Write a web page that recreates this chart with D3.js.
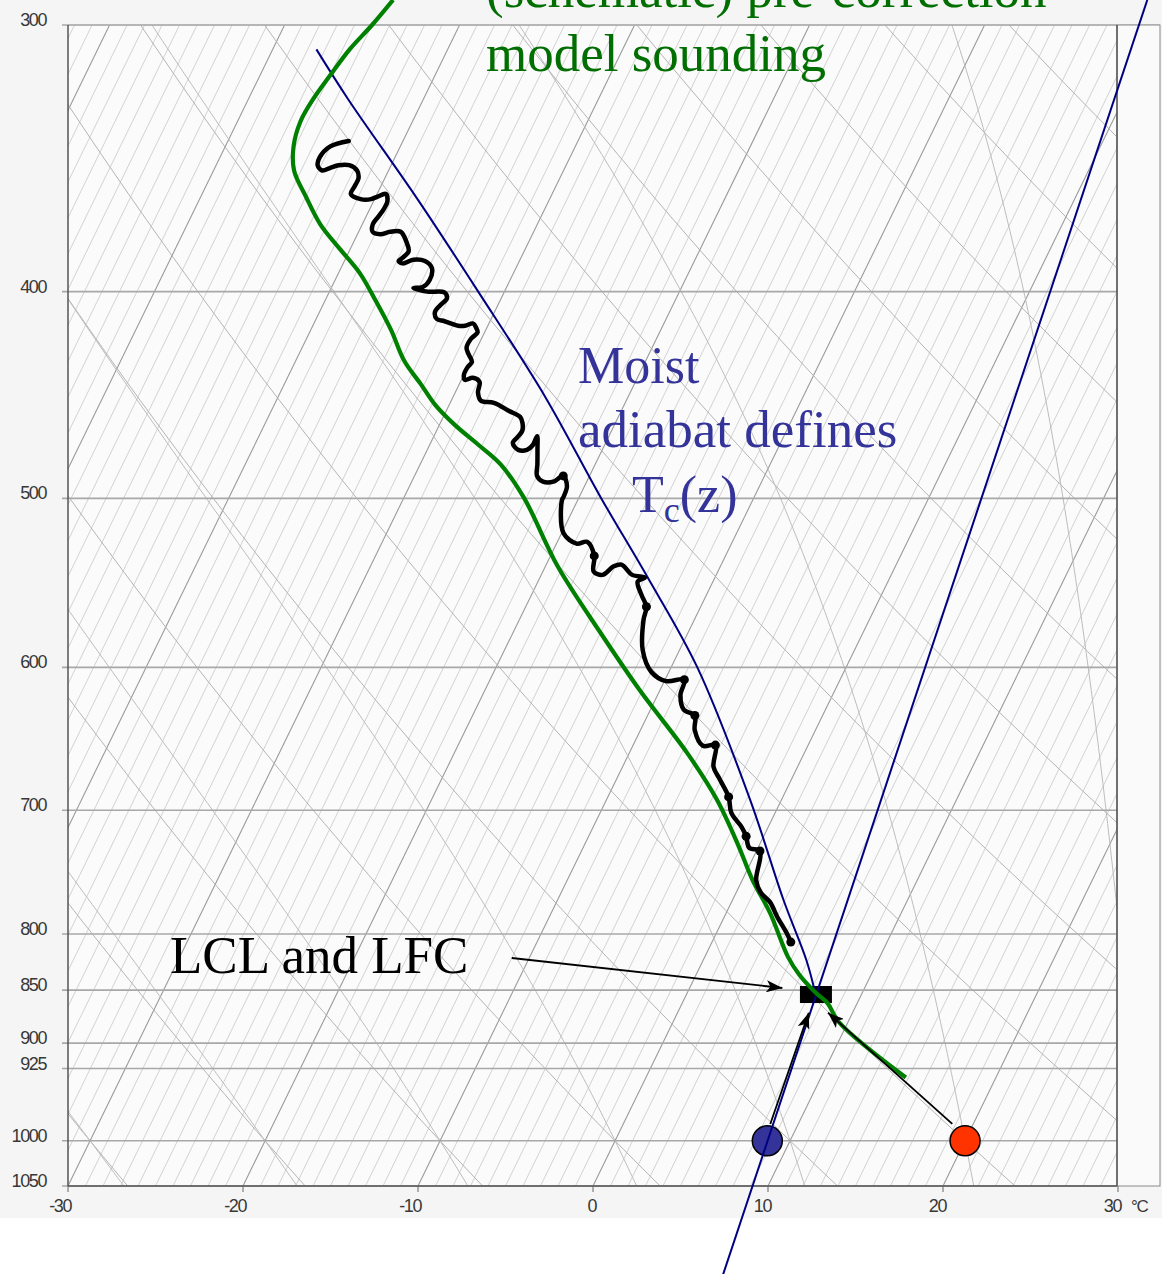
<!DOCTYPE html>
<html><head><meta charset="utf-8">
<script src="https://cdn.jsdelivr.net/npm/d3@7"></script>
<style>body{margin:0;background:#fff} svg{display:block}</style>
</head><body>
<svg id="c" width="1162" height="1274"></svg>
<script>
// ---------------- data ----------------
const pressureTicks = [300,400,500,600,700,800,850,900,925,1000,1050];
const tempTicks = [-30,-20,-10,0,10,20,30];
const dryAdiabatTheta = [-30,-20,-10,0,10,20,30,40,50,60,70,80,90,100,110,120];   // °C
const moistAdiabatThetaW = [-30,-20,-10,0,10,20,30];                              // °C
const surfaceP = 1000;
const surfaceT = 20.0;
const surfaceTd = 8.7;
const lcl = [7.4, 854];
// pre-correction model sounding [T °C, p hPa]
const modelSounding = [[-44.5,292],[-45.0,300],[-45.6,308],[-46.0,317],[-46.3,325],[-46.4,333],[-46.1,342],
 [-45.4,351],[-44.0,361],[-42.4,372],[-40.6,382],[-38.8,392],[-37.1,404],[-35.4,417],[-33.8,431],[-32.2,442],
 [-30.8,452],[-29.1,462],[-27.2,472],[-25.4,482],[-23.1,500],[-19.3,538],[-15.0,578],[-11.15,615],[-6.7,658],
 [-3.7,692],[-1.2,727],[0.6,755],[2.5,782],[4.75,820],[5.9,836],[7.3,852],[8.3,862],[9.5,880],[14.85,934]];
// observed sounding [T, p, blob]
const observedSounding = [[-43.1,340,0],[-44.0,342,0],[-44.3,346,0],[-44.2,349,0],[-43.8,351,0],[-43.4,350,0],
 [-43.0,349,0],[-42.4,349,0],[-41.8,351,0],[-41.5,354,0],[-41.5,357,0],[-41.5,360,0],[-40.8,362,0],[-40.2,362,0],
 [-39.9,361,0],[-39.5,360,0],[-39.2,363,0],[-39.2,366,0],[-39.3,369,0],[-39.4,372,0],[-39.2,375,0],[-38.7,376,0],
 [-38.2,375,0],[-37.6,375,0],[-37.0,379,0],[-36.6,383,0],[-36.8,386,0],[-36.9,387,0],[-36.6,388,0],[-36.1,386.5,0],
 [-35.4,387,0],[-34.8,390,0],[-34.6,395,0],[-34.8,398,0],[-35.3,398.5,0],[-34.4,400,0],[-33.4,400.4,0],[-33.1,403,0],
 [-33.3,406,0],[-33.4,409,0],[-33.1,412,0],[-32.6,413,0],[-31.7,415,0],[-31.3,415,0],[-30.9,414,0],[-30.6,416,0],
 [-30.4,418,0],[-30.6,421,0],[-30.6,425,0],[-30.3,428,0],[-29.9,431.5,0],[-30.0,434,0],[-30.0,437.5,0],[-29.8,440,0],
 [-29.4,439,0],[-28.9,441,0],[-28.7,446,0],[-28.3,450,0],[-27.5,451,0],[-26.4,455,0],[-25.6,458,0],[-25.3,461,0],
 [-25.1,465,0],[-25.2,468,0],[-25.3,471,0],[-24.8,474.5,0],[-24.3,474.5,0],[-24.1,472,0],[-24.1,467.6,0],[-23.7,474.5,0],
 [-23.3,482,0],[-23.0,488,0],[-22.5,491,0],[-21.9,491,0],[-21.5,488,1],[-21.0,493.5,0],[-20.9,499.3,0],[-20.9,501,0],
 [-19.9,519,0],[-18.85,525,0],[-18.3,524,0],[-17.5,532,1],[-17.1,541,0],[-16.5,543,0],[-16.1,538,0],[-15.7,537,0],
 [-14.8,543,0],[-14.0,544.6,0],[-14.3,547,0],[-13.7,555,0],[-13.1,562,1],[-12.9,570,0],[-12.1,589,0],[-11.0,603,0],
 [-9.9,609,0],[-8.9,608,1],[-8.7,618,0],[-8.1,628,0],[-7.3,632,1],[-6.9,642,0],[-6.0,653,0],[-5.3,652.5,1],
 [-4.8,668,0],[-4.1,677,0],[-3.1,690,1],[-2.5,702,0],[-1.5,713,0],[-1.0,720,1],[-0.5,729,0],[0.2,731.5,1],
 [0.8,755,0],[1.4,765,0],[2.2,773,0],[3.0,785,0],[4.0,799,0],[4.5,807,1]];
// moist adiabat through the LCL that defines Tc(z)
const moistAdiabatTc = [[-47.5,308],[-44.3,325],[-37.55,362],[-31.5,400],[-24.75,448],[-18.7,500],[-13.9,544],
 [-8.5,600],[-1.8,692],[2.9,771],[5.9,823],[7.2,850]];
// saturation mixing-ratio line through surface dewpoint
const mixingRatioLine = [[9.9,1155],[-1.4,292]];
const arrows = [
  {from:[-11.0,821], to:[5.3,848]},
  {from:[18.8,982],  to:[8.6,871]},
  {from:[8.4,982],   to:[7.5,871]}
];

// ---------------- scales ----------------
const x0 = 68, x1 = 1118, xR = 1117, yTop = 25, yBot = 1186;
const y  = d3.scaleLog().domain([300,1050]).range([yTop,yBot]);
const xT = d3.scaleLinear().domain([-30,30]).range([x0,x1]);
const skew = 0.488;
const X = (T,p) => xT(T) + skew*(yBot - y(p));
const line = d3.line().x(d=>X(d[0],d[1])).y(d=>y(d[1]));

const svg = d3.select('#c');
svg.append('rect').attr('width',1162).attr('height',1218).attr('fill','#f5f5f5');
svg.append('rect').attr('x',x0).attr('y',yTop).attr('width',xR-x0).attr('height',yBot-yTop).attr('fill','#fbfbfb');

const defs = svg.append('defs');
defs.append('clipPath').attr('id','clip').append('rect')
  .attr('x',x0).attr('y',yTop).attr('width',xR-x0).attr('height',yBot-yTop);
defs.append('marker').attr('id','ah').attr('viewBox','0 0 16 12').attr('refX',16).attr('refY',6)
  .attr('markerWidth',16).attr('markerHeight',12).attr('markerUnits','userSpaceOnUse').attr('orient','auto')
  .append('path').attr('d','M0,0 L16,6 L0,12 L4,6 Z').attr('fill','#000');

const grid = svg.append('g').attr('clip-path','url(#clip)');
const pSamples = d3.range(1100, 279, -10);

// isotherms
d3.range(-110, 31, 1).forEach(T=>{
  const major = T % 10 === 0;
  grid.append('path').attr('d', line([[T,1100],[T,280]]))
    .attr('stroke', major ? '#9a9a9a' : '#cdcdcd').attr('stroke-width', major?1.1:0.9).attr('fill','none');
});
// dry adiabats
dryAdiabatTheta.forEach(th=>{
  const pts = pSamples.map(p=>[(th+273.15)*Math.pow(p/1000,0.2857)-273.15, p]);
  grid.append('path').attr('d', d3.line().curve(d3.curveBasis).x(d=>X(d[0],d[1])).y(d=>y(d[1]))(pts))
    .attr('stroke','#b4b4b4').attr('stroke-width',1).attr('fill','none');
});
// moist adiabats
function dTdp(T,p){
  const Rd=287.04, Cp=1005.7, L=2.501e6, eps=0.622;
  const Tc=T-273.15;
  const es=6.112*Math.exp(17.67*Tc/(Tc+243.5));
  const rs=eps*es/(p-es);
  return (Rd*T + L*rs)/((Cp + L*L*rs*eps/(Rd*T*T))*p);
}
function moist(thw){
  const up=[], dn=[];
  let T=thw+273.15, p=1000;
  up.push([T-273.15,p]);
  while(p>280){ const h=-5;
    const k1=dTdp(T,p), k2=dTdp(T+h*k1/2,p+h/2), k3=dTdp(T+h*k2/2,p+h/2), k4=dTdp(T+h*k3,p+h);
    T+=h*(k1+2*k2+2*k3+k4)/6; p+=h; up.push([T-273.15,p]); }
  T=thw+273.15; p=1000;
  while(p<1100){ const h=5;
    const k1=dTdp(T,p), k2=dTdp(T+h*k1/2,p+h/2), k3=dTdp(T+h*k2/2,p+h/2), k4=dTdp(T+h*k3,p+h);
    T+=h*(k1+2*k2+2*k3+k4)/6; p+=h; dn.push([T-273.15,p]); }
  return dn.reverse().concat(up);
}
moistAdiabatThetaW.forEach(tw=>{
  grid.append('path').attr('d', line(moist(tw)))
    .attr('stroke','#bdbdbd').attr('stroke-width',1).attr('fill','none');
});
// isobars
pressureTicks.forEach(p=>{
  svg.append('line').attr('x1',x0-6).attr('x2',xR).attr('y1',y(p)).attr('y2',y(p))
    .attr('stroke','#a8a8a8').attr('stroke-width',1.6);
});
// frame
svg.append('line').attr('x1',x0).attr('x2',1160).attr('y1',yTop).attr('y2',yTop).attr('stroke','#b0b0b0').attr('stroke-width',1.2);
svg.append('line').attr('x1',x0).attr('x2',x0).attr('y1',yTop).attr('y2',yBot).attr('stroke','#555').attr('stroke-width',1.5);
svg.append('line').attr('x1',x0).attr('x2',xR).attr('y1',yBot).attr('y2',yBot).attr('stroke','#555').attr('stroke-width',1.5);
svg.append('rect').attr('x',xR).attr('y',yTop).attr('width',1160-xR).attr('height',yBot-yTop)
  .attr('fill','#fafafa').attr('stroke','#8a8a8a').attr('stroke-width',1);
svg.append('line').attr('x1',xR).attr('x2',xR).attr('y1',yTop).attr('y2',yBot).attr('stroke','#555').attr('stroke-width',1.5);

// axis labels
const lab = {'font-family':'Liberation Sans, Arial, sans-serif','font-size':'18px','fill':'#383838','letter-spacing':'-1.4px'};
pressureTicks.forEach(p=>{
  const t = svg.append('text').attr('x',46).attr('y',y(p)+1).attr('text-anchor','end').text(p);
  Object.entries(lab).forEach(([k,v])=>t.style(k,v));
});
tempTicks.forEach(T=>{
  svg.append('line').attr('x1',xT(T)).attr('x2',xT(T)).attr('y1',yBot).attr('y2',yBot+6).attr('stroke','#666');
  const t = svg.append('text').attr('x',xT(T)+3).attr('y',1212).attr('text-anchor','end').text(T);
  Object.entries(lab).forEach(([k,v])=>t.style(k,v));
});
{ const t = svg.append('text').attr('x',1131).attr('y',1212).text('°C');
  Object.entries(lab).forEach(([k,v])=>t.style(k,v)); t.style('font-size','17px'); }

// ---------------- marks ----------------
// LCL square
svg.append('rect').attr('x',X(lcl[0],lcl[1])-16).attr('y',y(lcl[1])-8.5).attr('width',32).attr('height',17).attr('fill','#000');
// surface dots
svg.append('circle').attr('cx',X(surfaceTd,surfaceP)).attr('cy',y(surfaceP)).attr('r',15)
  .attr('fill','#333399').attr('stroke','#000').attr('stroke-width',1.5);
svg.append('circle').attr('cx',X(surfaceT,surfaceP)).attr('cy',y(surfaceP)).attr('r',15)
  .attr('fill','#ff3300').attr('stroke','#000').attr('stroke-width',1.5);
// mixing ratio line
svg.append('path').attr('d',line(mixingRatioLine)).attr('stroke','#000080').attr('stroke-width',2).attr('fill','none');
// moist adiabat Tc
svg.append('path').attr('d',line.curve(d3.curveCatmullRom)(moistAdiabatTc)).attr('stroke','#000080').attr('stroke-width',2).attr('fill','none');
// model sounding
svg.append('path').attr('d',line.curve(d3.curveCatmullRom)(modelSounding)).attr('stroke','#008000').attr('stroke-width',4.2)
  .attr('fill','none').attr('stroke-linejoin','round');
// observed sounding
svg.append('path').attr('d',line.curve(d3.curveCatmullRom.alpha(0.5))(observedSounding)).attr('stroke','#000').attr('stroke-width',4.5)
  .attr('fill','none').attr('stroke-linejoin','round').attr('stroke-linecap','round');
svg.selectAll('circle.blob').data(observedSounding.filter(d=>d[2])).enter().append('circle').attr('class','blob')
  .attr('cx',d=>X(d[0],d[1])).attr('cy',d=>y(d[1])).attr('r',4.5).attr('fill','#000');
line.curve(d3.curveLinear);
// arrows
arrows.forEach(a=>{
  svg.append('line').attr('x1',X(a.from[0],a.from[1])).attr('y1',y(a.from[1]))
    .attr('x2',X(a.to[0],a.to[1])).attr('y2',y(a.to[1])).attr('stroke','#000').attr('stroke-width',1.8)
    .attr('marker-end','url(#ah)');
});

// ---------------- annotations ----------------
const serif = 'Liberation Serif, Times New Roman, serif';
function txt(x,yy,s,col,size){ return svg.append('text').attr('x',x).attr('y',yy).text(s)
  .style('font-family',serif).style('font-size',(size||52)+'px').style('fill',col); }
txt(486,7,'(schematic) pre-correction','#006e00',53);
txt(486,71,'model sounding','#006e00',53);
txt(578,383,'Moist','#333399',52);
txt(578,447,'adiabat defines','#333399',53);
const tc = txt(632,512,'T','#333399',52);
tc.append('tspan').attr('dy',10).style('font-size','36px').text('c');
tc.append('tspan').attr('dy',-10).text('(z)');
txt(170,973,'LCL and LFC','#000',53);
</script>
</body></html>
